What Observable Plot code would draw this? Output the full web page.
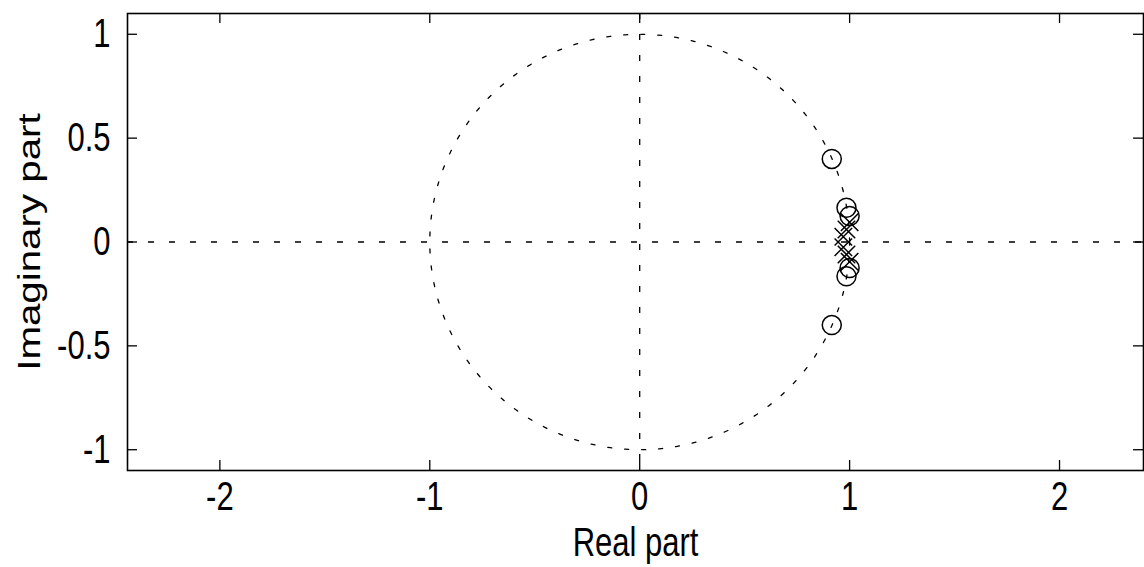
<!DOCTYPE html>
<html>
<head>
<meta charset="utf-8">
<script src="https://cdn.jsdelivr.net/npm/d3@7"></script>
<script src="https://cdn.jsdelivr.net/npm/@observablehq/plot@0.6"></script>
<style>
  html, body { margin: 0; padding: 0; background: #fff; }
  svg { display: block; }
</style>
</head>
<body>
<div id="chart"></div>
<script>
// Zeros (o) and poles (x) of the system
const zerosRe = [0.915, 0.915, 0.985, 0.985, 1.0, 1.0];
const zerosIm = [0.40, -0.40, 0.165, -0.165, 0.125, -0.125];
const polesRe = [1.0, 1.0, 0.985, 0.985, 0.97, 0.97];
const polesIm = [0.095, -0.095, 0.06, -0.06, 0.025, -0.025];

const xTicks = [-2, -1, 0, 1, 2];
const yTicks = [-1, -0.5, 0, 0.5, 1];
const xTickLabels = ["-2", "-1", "0", "1", "2"];
const yTickLabels = ["-1", "-0.5", "0", "0.5", "1"];

const zeros = zerosRe.map((re, i) => ({re, im: zerosIm[i]}));
const poles = polesRe.map((re, i) => ({re, im: polesIm[i]}));

// unit circle guide
const angles = d3.range(0, 361, 1);
const unitCircle = angles.map(a => ({re: Math.cos(a * Math.PI / 180), im: Math.sin(a * Math.PI / 180)}));

const font = "Liberation Sans, Arial, Helvetica, sans-serif";
const W = 1144, H = 567, ML = 127, MR = 1, MT = 13, MB = 97;
const innerW = W - ML - MR, innerH = H - MT - MB, TICK = 10;

const chart = Plot.plot({
  width: W,
  height: H,
  marginLeft: ML,
  marginRight: MR,
  marginTop: MT,
  marginBottom: MB,
  style: {fontFamily: font, fontSize: "31px", color: "#000", background: "#fff"},
  x: {domain: [-2.44, 2.40]},
  y: {domain: [-1.1, 1.1]},
  marks: [
    Plot.ruleY([0], {stroke: "#000", strokeWidth: 1.3, strokeDasharray: "6,15"}),
    Plot.ruleX([0], {stroke: "#000", strokeWidth: 1.3, strokeDasharray: "6,15"}),
    Plot.line(unitCircle, {x: "re", y: "im", stroke: "#000", strokeWidth: 1.3, strokeDasharray: "4,13"}),
    Plot.dot(zeros, {x: "re", y: "im", symbol: "circle", r: 9.5, stroke: "#000", strokeWidth: 1.5, fill: "none"}),
    Plot.dot(poles, {x: "re", y: "im", symbol: "times", r: 8, stroke: "#000", strokeWidth: 1.5}),
    // inward tick marks on all four sides
    Plot.tickX(xTicks, {x: d => d, insetTop: innerH - TICK, stroke: "#000", strokeWidth: 1.3}),
    Plot.tickX(xTicks, {x: d => d, insetBottom: innerH - TICK, stroke: "#000", strokeWidth: 1.3}),
    Plot.tickY(yTicks, {y: d => d, insetRight: innerW - TICK, stroke: "#000", strokeWidth: 1.3}),
    Plot.tickY(yTicks, {y: d => d, insetLeft: innerW - TICK, stroke: "#000", strokeWidth: 1.3}),
    Plot.axisX({ticks: xTicks, tickSize: 0, tickPadding: 14, tickFormat: (d, i) => xTickLabels[i], label: "Real part", labelAnchor: "center", labelOffset: 82, labelArrow: "none", fontSize: 31}),
    Plot.axisY({ticks: yTicks, tickSize: 0, tickPadding: 17, tickFormat: (d, i) => yTickLabels[i], label: "Imaginary part", labelAnchor: "center", labelOffset: 110, labelArrow: "none", fontSize: 31}),
    Plot.frame({stroke: "#000", strokeWidth: 1.6})
  ]
});
document.getElementById("chart").appendChild(chart);

// The reference text is vertically stretched (tall, narrow glyphs):
// stretch each text about its own centre.
const SY = 1.3;
chart.querySelectorAll("text").forEach(t => {
  const tr = t.getAttribute("transform") || "";
  const bb = t.getBBox();
  if (/rotate\(-90\)/.test(tr)) {
    const cx = bb.x + bb.width / 2;
    t.setAttribute("transform", `${tr} translate(${cx},0) scale(${SY},1) translate(${-cx},0)`);
  } else {
    const cy = bb.y + bb.height / 2;
    t.setAttribute("transform", `${tr} translate(0,${cy}) scale(1,${SY}) translate(0,${-cy})`);
  }
});
</script>
</body>
</html>
